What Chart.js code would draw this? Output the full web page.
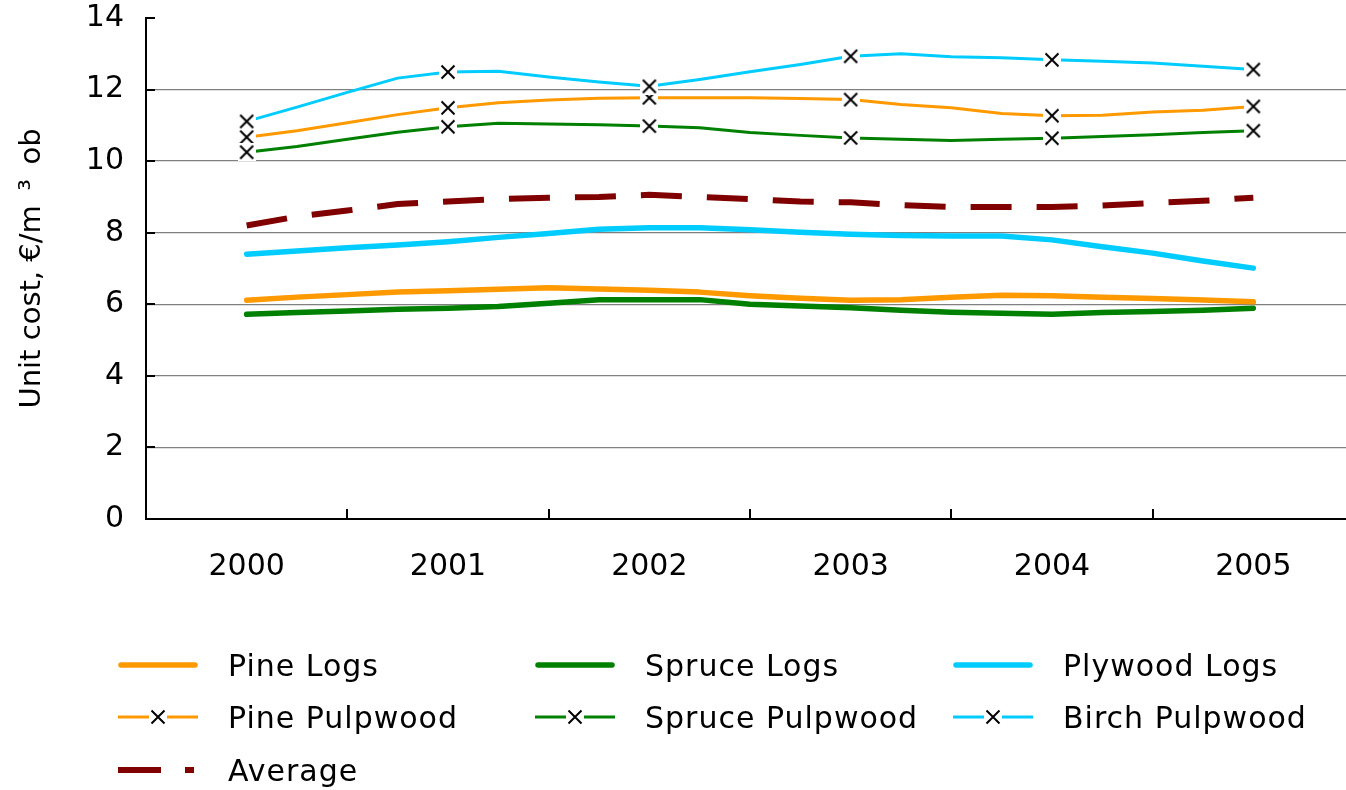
<!DOCTYPE html>
<html>
<head>
<meta charset="utf-8">
<script src="https://cdn.jsdelivr.net/npm/chart.js@4.4.1/dist/chart.umd.min.js"></script>
<style>
    html, body { margin: 0; padding: 0; background: #fff; overflow: hidden; width: 1346px; height: 790px; }
    #wrap { position: absolute; left: 0; top: 0; width: 1354px; height: 600px; }
    #legend { position: absolute; left: 0; top: 0; width: 1346px; height: 790px; font-family: "DejaVu Sans"; font-size: 30px; letter-spacing: 1px; color: #000; }
    .item { position: absolute; display: flex; align-items: center; height: 40px; white-space: nowrap; }
    .item canvas { width: 80px; height: 24px; margin-right: 30px; }
</style>
</head>
<body>
<div id="wrap"><canvas id="costChart"></canvas></div>
<div id="legend"></div>
<script>
// quarterly positions, year labels only at whole years
const quarters = [2000, 2000.25, 2000.5, 2000.75, 2001, 2001.25, 2001.5, 2001.75, 2002, 2002.25, 2002.5,
    2002.75, 2003, 2003.25, 2003.5, 2003.75, 2004, 2004.25, 2004.5, 2004.75, 2005];

// unit cost, EUR/m3 ob
const pineLogs     = [6.11, 6.20, 6.27, 6.34, 6.38, 6.42, 6.46, 6.43, 6.39, 6.34, 6.24, 6.17, 6.11, 6.13, 6.20, 6.25, 6.24, 6.20, 6.16, 6.12, 6.07];
const spruceLogs   = [5.72, 5.77, 5.81, 5.86, 5.89, 5.94, 6.03, 6.13, 6.13, 6.13, 6.00, 5.95, 5.90, 5.83, 5.78, 5.75, 5.72, 5.77, 5.80, 5.83, 5.89];
const plywoodLogs  = [7.40, 7.49, 7.58, 7.66, 7.75, 7.87, 7.98, 8.10, 8.14, 8.14, 8.08, 8.01, 7.96, 7.92, 7.91, 7.91, 7.80, 7.61, 7.43, 7.21, 7.01];
const pinePulp     = [10.67, 10.85, 11.07, 11.30, 11.49, 11.63, 11.71, 11.76, 11.77, 11.77, 11.77, 11.75, 11.72, 11.58, 11.49, 11.33, 11.27, 11.28, 11.37, 11.42, 11.53];
const sprucePulp   = [10.25, 10.41, 10.61, 10.81, 10.96, 11.06, 11.04, 11.02, 10.98, 10.93, 10.80, 10.72, 10.65, 10.61, 10.58, 10.61, 10.64, 10.69, 10.74, 10.80, 10.85];
const birchPulp    = [11.11, 11.51, 11.92, 12.32, 12.49, 12.51, 12.35, 12.21, 12.09, 12.28, 12.50, 12.70, 12.93, 13.00, 12.92, 12.89, 12.83, 12.79, 12.74, 12.65, 12.56];
const averageCost  = [8.20, 8.45, 8.62, 8.80, 8.87, 8.94, 8.98, 9.00, 9.06, 9.00, 8.94, 8.87, 8.85, 8.77, 8.72, 8.72, 8.72, 8.76, 8.83, 8.89, 8.98];

const seriesLabels = ["Pine Logs", "Spruce Logs", "Plywood Logs", "Pine Pulpwood", "Spruce Pulpwood", "Birch Pulpwood", "Average"];

const ORANGE = "#FF9900", GREEN = "#008000", CYAN = "#00CCFF", DARKRED = "#800000";
const FONT = "'DejaVu Sans', Verdana, sans-serif";
const NONE = "rgba(0,0,0,0)";

// X marker on a white square (cuts the line like the original)
function makeCross() {
    const c = document.createElement("canvas");
    c.width = 18; c.height = 18;
    const g = c.getContext("2d");
    g.fillStyle = "#fff";
    g.fillRect(0, 0, 18, 18);
    g.strokeStyle = "#000";
    g.lineWidth = 2;
    g.beginPath();
    g.moveTo(2.5, 2.5); g.lineTo(15.5, 15.5);
    g.moveTo(15.5, 2.5); g.lineTo(2.5, 15.5);
    g.stroke();
    return c;
}
const cross = makeCross();

function pts(values) {
    return quarters.map((q, i) => ({ x: q, y: values[i] }));
}

function thick(label, values, color, i) {
    return {
        label, data: pts(values), borderColor: color, backgroundColor: color,
        borderWidth: 5.5, borderCapStyle: "round", borderJoinStyle: "round",
        pointRadius: 0, tension: 0, order: 10 - i,
    };
}

function pulp(label, values, color, i) {
    return {
        label, data: pts(values), borderColor: color, backgroundColor: color,
        borderWidth: 3, borderCapStyle: "butt", borderJoinStyle: "round",
        pointStyle: cross, marker: true,
        pointRadius: (ctx) => (ctx.raw && ctx.raw.x % 1 === 0 ? 9 : 0),
        tension: 0, order: 10 - i,
    };
}

// ticks drawn inside the plot area, as in the original
const insideTicks = {
    id: "insideTicks",
    afterDraw(chart) {
        const { ctx, chartArea, scales } = chart;
        ctx.save();
        ctx.strokeStyle = "#000";
        ctx.lineWidth = 2;
        ctx.beginPath();
        scales.x.ticks.forEach((t) => {
            if (t.value % 1 !== 0) {
                const px = Math.round(scales.x.getPixelForValue(t.value));
                ctx.moveTo(px, chartArea.bottom);
                ctx.lineTo(px, chartArea.bottom - 10);
            }
        });
        scales.y.ticks.forEach((t) => {
            const py = Math.round(scales.y.getPixelForValue(t.value));
            ctx.moveTo(chartArea.left, py);
            ctx.lineTo(chartArea.left + 9, py);
        });
        ctx.stroke();
        ctx.restore();
    },
};

const chart = new Chart(document.getElementById("costChart"), {
    type: "line",
    data: {
        datasets: [
            thick(seriesLabels[0], pineLogs, ORANGE, 0),
            thick(seriesLabels[1], spruceLogs, GREEN, 1),
            thick(seriesLabels[2], plywoodLogs, CYAN, 2),
            pulp(seriesLabels[3], pinePulp, ORANGE, 3),
            pulp(seriesLabels[4], sprucePulp, GREEN, 4),
            pulp(seriesLabels[5], birchPulp, CYAN, 5),
            {
                label: seriesLabels[6], data: pts(averageCost), borderColor: DARKRED, backgroundColor: DARKRED,
                borderWidth: 6, borderDash: [41, 25], borderCapStyle: "butt",
                pointRadius: 0, tension: 0, order: 4,
            },
        ],
    },
    options: {
        responsive: true,
        maintainAspectRatio: false,
        animation: false,
        layout: { autoPadding: false, padding: { top: 0, bottom: 15, left: 0, right: 0 } },
        plugins: { legend: { display: false }, tooltip: { enabled: false } },
        scales: {
            x: {
                type: "linear", min: 1999.5, max: 2005.5,
                ticks: {
                    stepSize: 0.5, autoSkip: false, maxRotation: 0, padding: 0, color: "#000",
                    font: { family: FONT, size: 30 },
                    callback: (v) => (v % 1 === 0 ? String(v) : ""),
                },
                grid: { display: true, drawOnChartArea: false, drawTicks: true, tickLength: 30, tickColor: NONE },
                border: { color: "#000", width: 2 },
            },
            y: {
                min: 0, max: 14,
                ticks: { stepSize: 2, padding: 0, color: "#000", font: { family: FONT, size: 30 } },
                grid: {
                    drawTicks: true, tickLength: 22, tickColor: NONE, lineWidth: 1.3,
                    color: (ctx) => (ctx.tick && ctx.tick.value > 0 && ctx.tick.value < 14 ? "#808080" : NONE),
                },
                border: { color: "#000", width: 2 },
                title: {
                    display: true, text: "Unit cost, €/m\u2002³\u2002ob", color: "#000",
                    font: { family: FONT, size: 29 }, padding: { top: 15, bottom: 36 },
                },
            },
        },
    },
    plugins: [insideTicks],
});

// legend in three columns below the chart
const legendPos = [[118, 665], [535, 665], [953, 665], [118, 717], [535, 717], [953, 717], [118, 770]];
const legendEl = document.getElementById("legend");
chart.data.datasets.forEach((ds, i) => {
    const item = document.createElement("div");
    item.className = "item";
    item.style.left = legendPos[i][0] + "px";
    item.style.top = (legendPos[i][1] - 20) + "px";
    const c = document.createElement("canvas");
    c.width = 80; c.height = 24;
    const g = c.getContext("2d");
    g.strokeStyle = ds.borderColor;
    g.lineWidth = ds.borderWidth;
    g.lineCap = ds.borderCapStyle;
    g.beginPath();
    if (ds.borderDash) {
        g.setLineDash([43, 24]);
        g.moveTo(0, 12); g.lineTo(76, 12);
    } else if (ds.borderCapStyle === "round") {
        g.moveTo(3, 12); g.lineTo(77, 12);
    } else {
        g.moveTo(0, 12); g.lineTo(80, 12);
    }
    g.stroke();
    if (ds.marker) g.drawImage(cross, 31, 3);
    const span = document.createElement("span");
    span.textContent = ds.label;
    item.appendChild(c);
    item.appendChild(span);
    legendEl.appendChild(item);
});
</script>
</body>
</html>
